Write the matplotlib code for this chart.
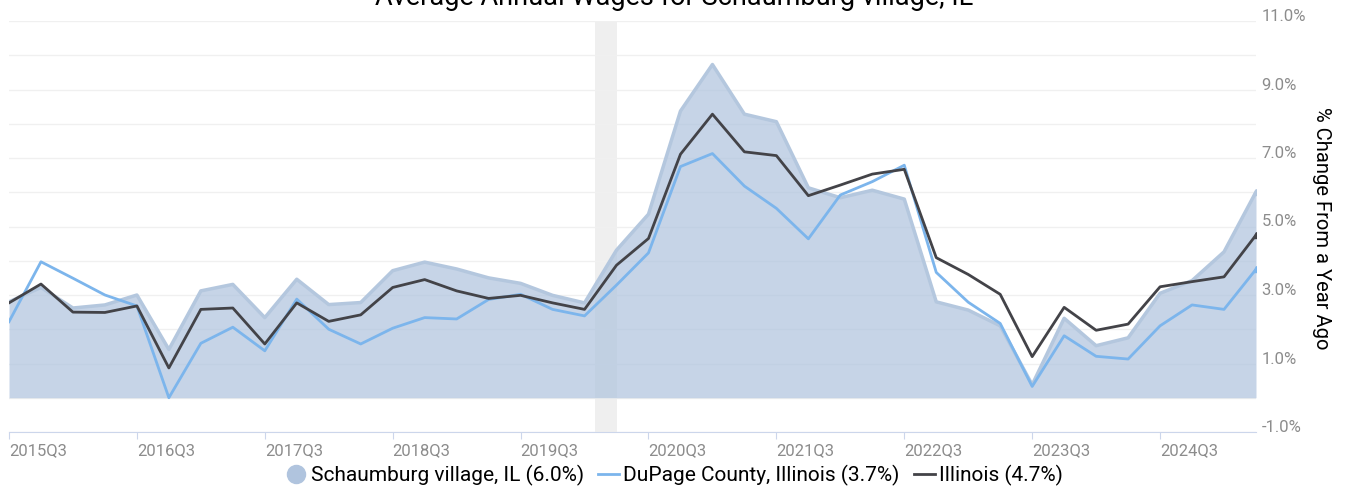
import matplotlib
matplotlib.use("Agg")
import matplotlib.pyplot as plt
import matplotlib.transforms as mtransforms
import numpy as np

plt.rcParams['font.family'] = ['Roboto', 'DejaVu Sans']

# quarterly data, 2015Q3 .. 2025Q2
quarters = [f"{y}Q{q}" for y in range(2015, 2026) for q in range(1, 5)][2:42]

schaumburg = [2.80, 3.22, 2.62, 2.71, 3.00, 1.41, 3.12, 3.31, 2.34, 3.46,
              2.72, 2.78, 3.71, 3.96, 3.76, 3.50, 3.34, 2.99, 2.77, 4.31,
              5.36, 8.37, 9.73, 8.28, 8.06, 6.13, 5.84, 6.06, 5.80, 2.80,
              2.56, 2.10, 0.38, 2.32, 1.52, 1.75, 3.05, 3.42, 4.26, 6.01]
dupage = [2.22, 3.97, 3.49, 3.00, 2.68, 0.00, 1.59, 2.06, 1.37, 2.88,
          2.00, 1.57, 2.03, 2.34, 2.30, 2.87, 3.02, 2.58, 2.39, 3.29,
          4.23, 6.75, 7.13, 6.18, 5.53, 4.64, 5.92, 6.31, 6.79, 3.66,
          2.79, 2.17, 0.33, 1.81, 1.21, 1.13, 2.10, 2.71, 2.58, 3.75]
illinois = [2.77, 3.32, 2.50, 2.49, 2.68, 0.87, 2.58, 2.62, 1.57, 2.77,
            2.23, 2.42, 3.22, 3.45, 3.12, 2.90, 2.99, 2.77, 2.58, 3.87,
            4.65, 7.11, 8.28, 7.18, 7.07, 5.90, 6.21, 6.53, 6.67, 4.09,
            3.60, 3.02, 1.20, 2.64, 1.97, 2.15, 3.24, 3.39, 3.53, 4.75]

labels = ["Schaumburg village, IL (6.0%)", "DuPage County, Illinois (3.7%)", "Illinois (4.7%)"]
recession = (18 + 1/3, 19)   # Feb 2020 - Apr 2020, in quarter index units

x = np.arange(len(quarters))

fig = plt.figure(figsize=(13.49, 4.88), dpi=100)
ax = fig.add_axes([9/1349, 1 - 432/488, (1256 - 9)/1349, 411/488])

ax.axvspan(recession[0], recession[1], color='#efefef', zorder=0, lw=0)
ax.fill_between(x, 0, schaumburg, color='#b0c4de', alpha=0.72, lw=0, zorder=2)
ax.plot(x, schaumburg, color='#b4c7de', lw=2.5, zorder=3)
ax.plot(x, dupage, color='#7cb5ec', lw=2, zorder=4)
ax.plot(x, illinois, color='#434348', lw=2, zorder=5)
ax.plot(x[-1], dupage[-1], marker='^', ms=4, color='#7cb5ec', zorder=4)
ax.plot(x[-1], illinois[-1], marker='^', ms=4, color='#434348', zorder=5)
ax.plot(x[-1], schaumburg[-1], marker='^', ms=4, color='#b4c7de', zorder=3)

ax.set_xlim(0, len(x) - 1)
ax.set_ylim(-1, 11)

# grid every 1%, labels every 2%
for v in range(-1, 12):
    ax.axhline(v, color='#f0f0f0', lw=1, zorder=1)
ax.set_yticks(np.arange(-1, 12, 2))
ax.set_yticklabels([f"{v:.1f}%" for v in np.arange(-1, 12, 2)])
ax.yaxis.tick_right()
ax.tick_params(axis='y', length=0, pad=4, labelsize=12, labelcolor='#8c8c8c')
off = mtransforms.ScaledTranslation(0, 6/100, fig.dpi_scale_trans)
for t in ax.get_yticklabels():
    t.set_transform(t.get_transform() + off)

xt = x[::4]
ax.set_xticks(xt)
ax.set_xticklabels([quarters[i] for i in xt], ha='left')
ax.tick_params(axis='x', length=5, color='#ccd6eb', pad=3, labelsize=12, labelcolor='#8c8c8c')

for s in ['top', 'left', 'right']:
    ax.spines[s].set_visible(False)
ax.spines['bottom'].set_color('#ccd6eb')
ax.spines['bottom'].set_zorder(6)

fig.text(1322/1349, 1 - 228/488, "% Change From a Year Ago", rotation=-90,
         ha='center', va='center', fontsize=14.5, color='black')
fig.text(0.5, 1 - 5/488, "Average Annual Wages for Schaumburg village, IL",
         ha='center', va='baseline', fontsize=19.5, color='black')

h1 = plt.Line2D([], [], marker='o', ls='none', ms=13, color='#b0c4de')
h2 = plt.Line2D([], [], color='#7cb5ec', lw=2)
h3 = plt.Line2D([], [], color='#434348', lw=2)
fig.legend([h1, h2, h3], labels, loc='center', bbox_to_anchor=(0.5, 1 - 475/488),
           ncol=3, frameon=False, fontsize=15, handlelength=1.0,
           handletextpad=0.2, columnspacing=0.7)

fig.savefig("out.png", dpi=100)
